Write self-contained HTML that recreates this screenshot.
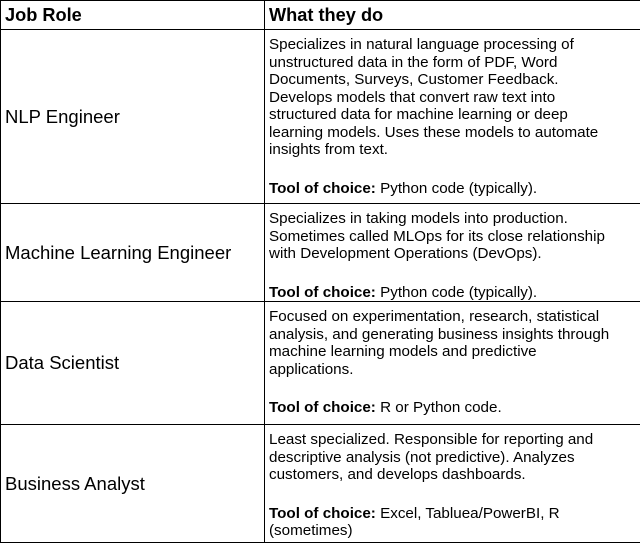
<!DOCTYPE html>
<html><head><meta charset="utf-8"><style>
html,body{margin:0;padding:0;background:#fff;}
body{width:640px;height:542px;overflow:hidden;font-family:"Liberation Sans",Arial,sans-serif;color:#000;}
table{border-collapse:collapse;width:640px;table-layout:fixed;}
td,th{border:1px solid #000;padding:0 4px;}
th{font-weight:bold;font-size:18.2px;text-align:left;height:28px;vertical-align:middle;}
td.role{font-size:18.5px;vertical-align:middle;}
td.desc{font-size:15.2px;line-height:17.5px;vertical-align:top;padding-top:6px;}
td.desc .w{height:1px;overflow:visible;}
.gap{height:21px;}
</style></head><body>
<table>
<colgroup><col style="width:264px"><col style="width:376px"></colgroup>
<tr><th>Job Role</th><th>What they do</th></tr>
<tr style="height:174px"><td class="role">NLP Engineer</td><td class="desc"><div class="w">Specializes in natural language processing of<br>unstructured data in the form of PDF, Word<br>Documents, Surveys, Customer Feedback.<br>Develops models that convert raw text into<br>structured data for machine learning or deep<br>learning models. Uses these models to automate<br>insights from text.<div class="gap"></div><b>Tool of choice:</b> Python code (typically).</div></td></tr>
<tr style="height:98px"><td class="role">Machine Learning Engineer</td><td class="desc"><div class="w">Specializes in taking models into production.<br>Sometimes called MLOps for its close relationship<br>with Development Operations (DevOps).<div class="gap"></div><b>Tool of choice:</b> Python code (typically).</div></td></tr>
<tr style="height:123px"><td class="role">Data Scientist</td><td class="desc"><div class="w">Focused on experimentation, research, statistical<br>analysis, and generating business insights through<br>machine learning models and predictive<br>applications.<div class="gap"></div><b>Tool of choice:</b> R or Python code.</div></td></tr>
<tr style="height:118px"><td class="role">Business Analyst</td><td class="desc"><div class="w">Least specialized. Responsible for reporting and<br>descriptive analysis (not predictive). Analyzes<br>customers, and develops dashboards.<div class="gap"></div><b>Tool of choice:</b> Excel, Tabluea/PowerBI, R<br>(sometimes)</div></td></tr>
</table>
</body></html>
